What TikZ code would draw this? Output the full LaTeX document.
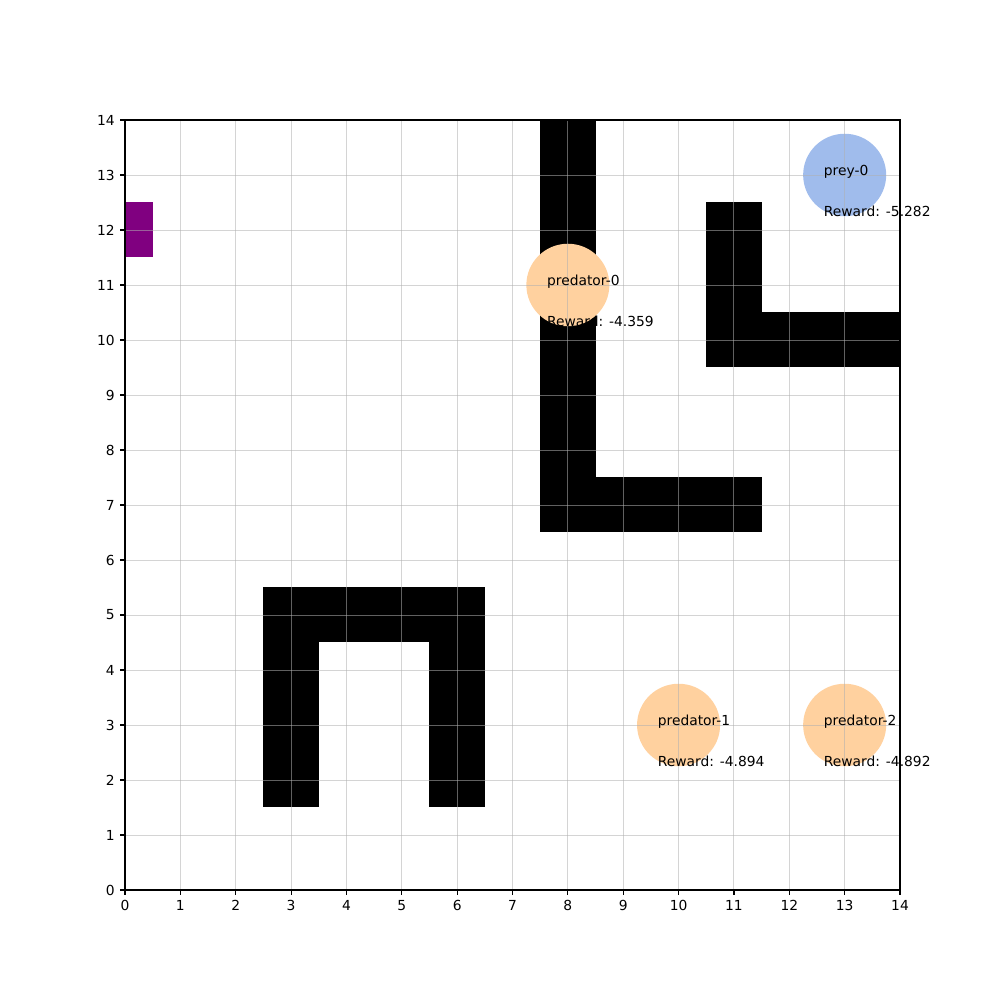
\documentclass[tikz,border=0pt]{standalone}
\usepackage{fontspec}
\setmainfont{DejaVu Sans}
\usetikzlibrary{positioning}
\definecolor{preyblue}{HTML}{A0BCEC}
\definecolor{predpeach}{HTML}{FFD19F}
\definecolor{goal}{HTML}{800080}
\definecolor{gridline}{HTML}{B0B0B0}

\begin{document}
\begin{tikzpicture}[x=1.4061cm,y=1.397cm,
  font=\fontsize{10}{12}\selectfont,
  wall/.style={fill=black},
  prey/.style={fill=preyblue},
  pred/.style={fill=predpeach},
  grd/.style={gridline,line width=0.7pt,opacity=0.55},
  tick/.style={line width=0.8pt},
  lbl/.style={inner sep=0pt,anchor=base west}
]
\useasboundingbox (-3.175cm,-2.794cm) rectangle ++(25.4cm,25.4cm);

% walls
\fill[wall] (7.5,6.5) rectangle (8.5,14);
\fill[wall] (8.5,6.5) rectangle (11.5,7.5);
\fill[wall] (10.5,9.5) rectangle (11.5,12.5);
\fill[wall] (11.5,9.5) rectangle (14,10.5);
\fill[wall] (2.5,1.5) rectangle (3.5,5.5);
\fill[wall] (5.5,1.5) rectangle (6.5,5.5);
\fill[wall] (3.5,4.5) rectangle (5.5,5.5);
% goal cell
\fill[goal] (0,11.5) rectangle (0.5,12.5);

% agents
\fill[prey] (13,13) circle[radius=0.75];
\fill[pred] (8,11) circle[radius=0.75];
\fill[pred] (10,3) circle[radius=0.75];
\fill[pred] (13,3) circle[radius=0.75];

% grid
\foreach \i in {0,...,14} {
  \draw[grd] (\i,0) -- (\i,14);
  \draw[grd] (0,\i) -- (14,\i);
}

% names and rewards
\node[lbl] (prey0)  at (12.62,12.995) {prey-0};
\node[lbl] (prey0r) at (12.62,12.25) {Reward: -5.282};
\node[lbl] (pred0)  at (7.62,10.995) {predator-0};
\node[lbl] (pred0r) at (7.62,10.25) {Reward: -4.359};
\node[lbl] (pred1)  at (9.62,2.995) {predator-1};
\node[lbl] (pred1r) at (9.62,2.25) {Reward: -4.894};
\node[lbl] (pred2)  at (12.62,2.995) {predator-2};
\node[lbl] (pred2r) at (12.62,2.25) {Reward: -4.892};

% axes
\draw[tick] (0,0) rectangle (14,14);
\foreach \i in {0,...,14} {
  \draw[tick] (\i,0) -- ++(0,-3.5pt) node[below=3.5pt,inner sep=0pt] (xt\i) {\i};
  \draw[tick] (0,\i) -- ++(-3.5pt,0) node[left=3.5pt,inner sep=0pt] (yt\i) {\i};
}
\end{tikzpicture}
\end{document}
